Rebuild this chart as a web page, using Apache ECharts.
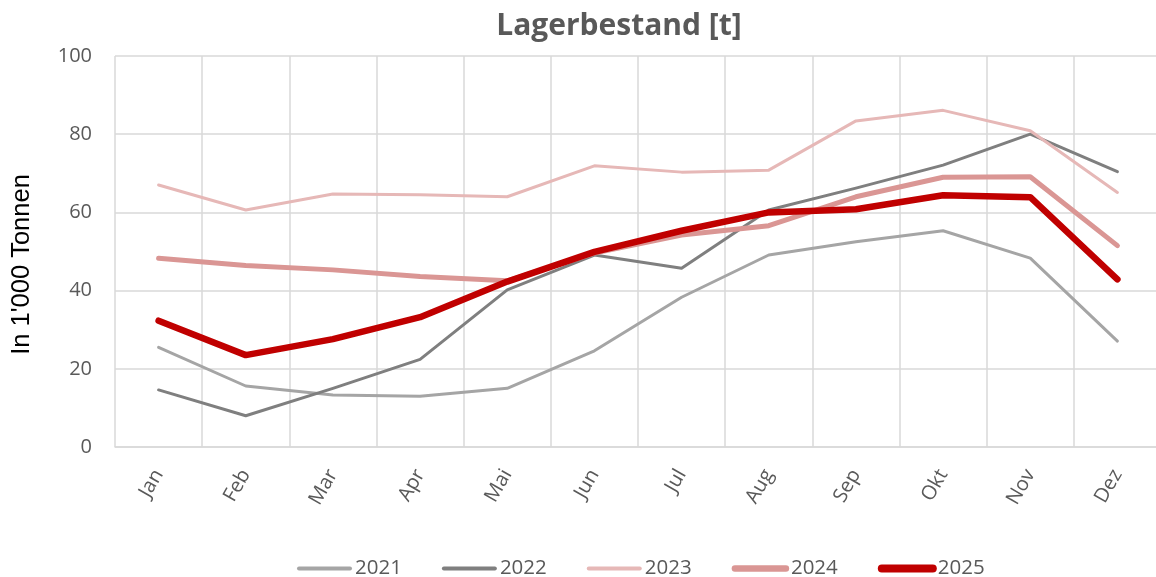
<!DOCTYPE html>
<html>
<head>
<meta charset="utf-8">
<script src="https://cdn.jsdelivr.net/npm/echarts@6/dist/echarts.min.js"></script>
<style>
  html, body { margin: 0; padding: 0; background: #fff; }
  #chart { width: 1156px; height: 577px; }
</style>
</head>
<body>
<div id="chart"></div>
<script>
var months = ['Jan', 'Feb', 'Mar', 'Apr', 'Mai', 'Jun', 'Jul', 'Aug', 'Sep', 'Okt', 'Nov', 'Dez'];
var yTicks = [0, 20, 40, 60, 80, 100];

var data2021 = [25.5, 15.6, 13.3, 13.0, 15.0, 24.6, 38.3, 49.1, 52.5, 55.3, 48.3, 27.1];
var data2022 = [14.6, 8.0, 15.0, 22.4, 40.2, 49.1, 45.7, 60.6, 66.2, 72.1, 80.0, 70.4];
var data2023 = [67.0, 60.6, 64.7, 64.5, 64.0, 71.9, 70.3, 70.8, 83.4, 86.1, 80.9, 65.1];
var data2024 = [48.3, 46.4, 45.3, 43.6, 42.5, 49.6, 54.2, 56.6, 64.0, 69.0, 69.1, 51.5];
var data2025 = [32.3, 23.5, 27.6, 33.2, 42.3, 49.9, 55.3, 60.0, 60.8, 64.4, 63.9, 42.9];

var chart = echarts.init(document.getElementById('chart'));

var gridColor = '#d9d9d9';
var textColor = '#595959';
var font = '"Open Sans", sans-serif';

function line(name, data, color, width) {
    return {
        name: name,
        type: 'line',
        data: data,
        symbol: 'none',
        showSymbol: false,
        lineStyle: { color: color, width: width, cap: 'round', join: 'round' },
        itemStyle: { color: color }
    };
}

// legend entry: thicker line, no dot
function legendItem(name, width) {
    return {
        name: name,
        itemStyle: { opacity: 0 },
        lineStyle: { width: width, cap: 'round' }
    };
}

var option = {
    animation: false,
    title: {
        text: 'Lagerbestand [t]',
        left: 614,
        top: 6,
        textAlign: 'center',
        textStyle: { fontFamily: font, fontSize: 30, fontWeight: 'bold', color: textColor }
    },
    legend: {
        left: 292,
        top: 553,
        itemWidth: 51,
        itemHeight: 10,
        itemGap: 40,
        textStyle: { fontFamily: font, fontSize: 20.5, color: textColor },
        lineStyle: { width: 'inherit', cap: 'round' },
        data: [
            legendItem('2021', 4),
            legendItem('2022', 4),
            legendItem('2023', 4),
            legendItem('2024', 6.5),
            legendItem('2025', 8)
        ]
    },
    grid: {
        left: 115,
        right: -5,
        top: 56,
        bottom: 130,
        outerBoundsMode: 'none'
    },
    xAxis: {
        type: 'category',
        data: months,
        boundaryGap: true,
        axisLine: { show: true, lineStyle: { color: gridColor, width: 1.5 } },
        axisTick: { show: false },
        splitLine: { show: true, interval: 0, lineStyle: { color: gridColor, width: 1.5 } },
        axisLabel: {
            rotate: 60,
            margin: 24,
            interval: 0,
            fontFamily: font,
            fontSize: 20,
            color: textColor
        }
    },
    yAxis: {
        type: 'value',
        min: yTicks[0],
        max: yTicks[yTicks.length - 1],
        interval: 20,
        name: "In 1'000 Tonnen",
        nameLocation: 'middle',
        nameRotate: 90,
        nameGap: 80,
        nameTextStyle: {
            fontFamily: '"Liberation Sans", Arial, sans-serif',
            fontSize: 25.5,
            color: '#000',
            padding: [0, 26, 0, 0]
        },
        axisLine: { show: false },
        axisTick: { show: false },
        splitLine: { show: true, lineStyle: { color: gridColor, width: 1.5 } },
        axisLabel: { margin: 23, fontFamily: font, fontSize: 20, color: textColor }
    },
    series: [
        line('2021', data2021, '#a5a5a5', 3),
        line('2022', data2022, '#7f7f7f', 3),
        line('2023', data2023, '#e6b8b7', 3),
        line('2024', data2024, '#da9694', 5),
        line('2025', data2025, '#c00000', 6.5)
    ]
};

chart.setOption(option);
</script>
</body>
</html>
